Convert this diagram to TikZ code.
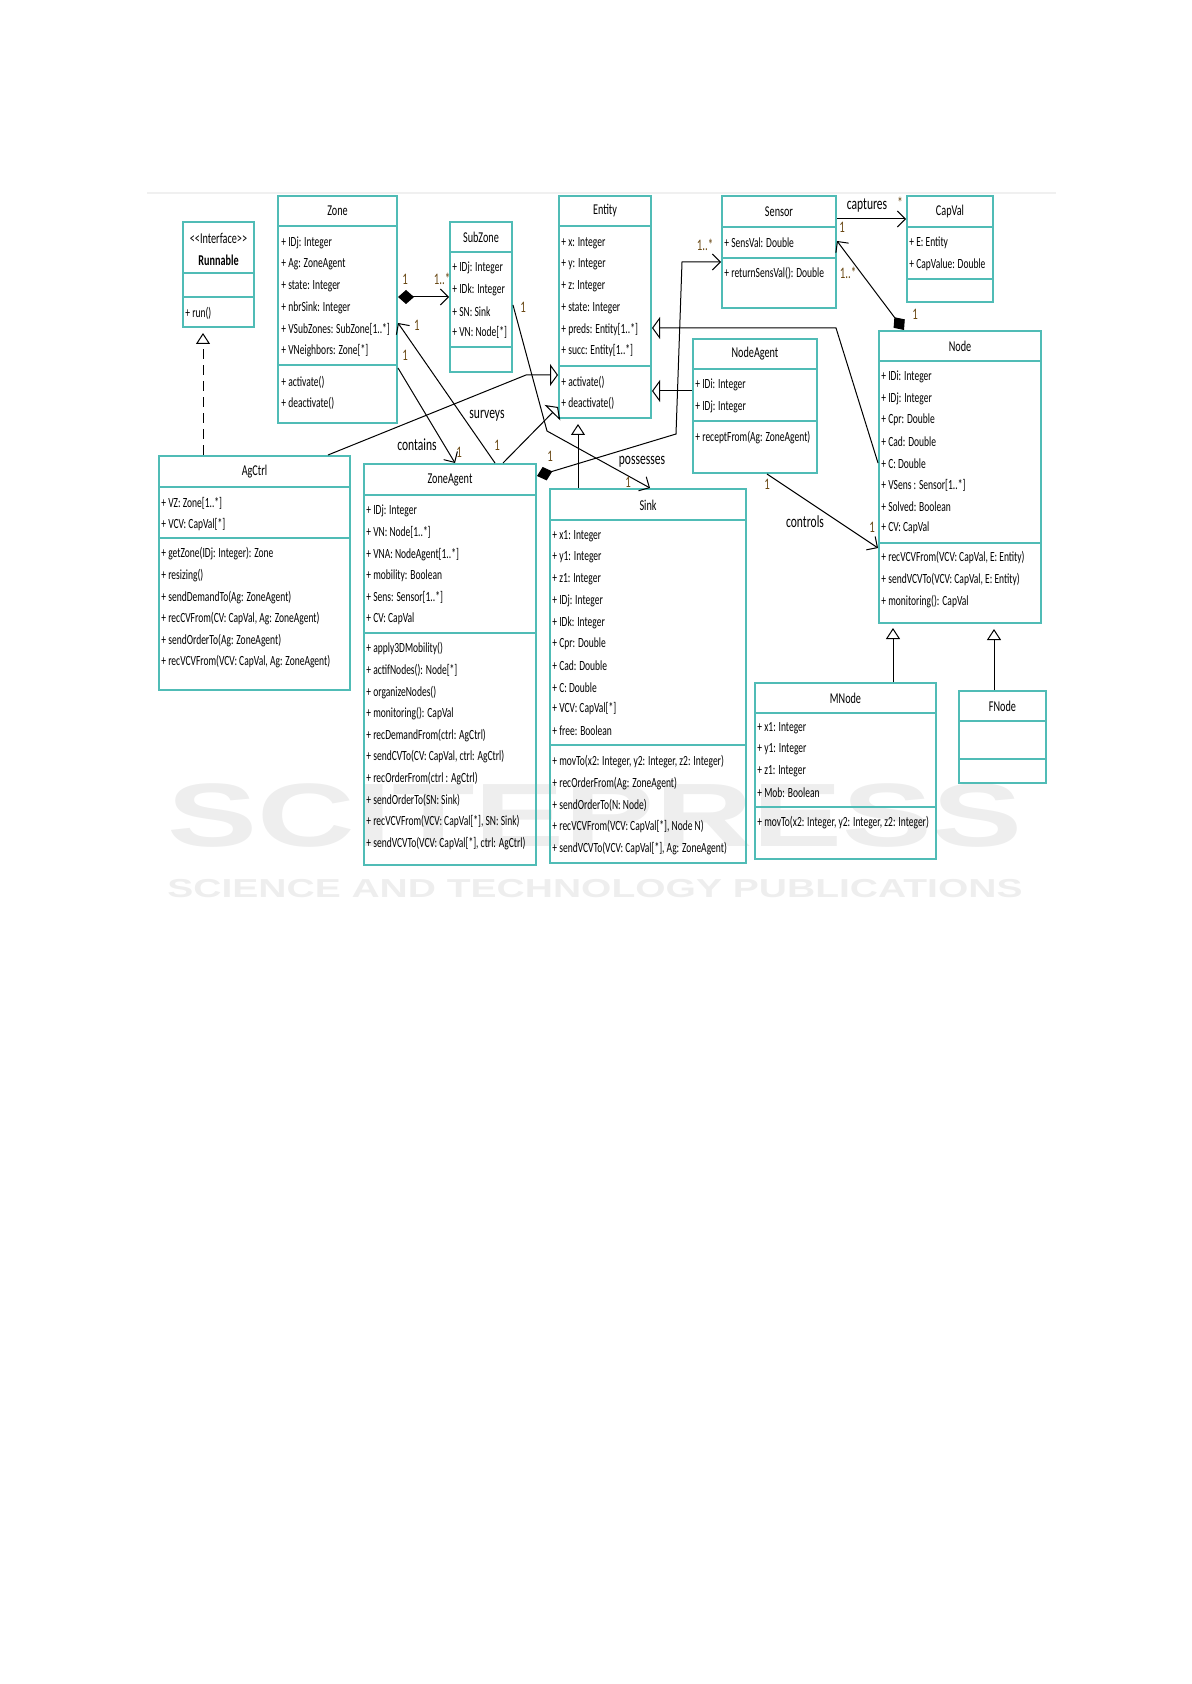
\documentclass[tikz,border=0pt]{standalone}
\usepackage{fontspec}
\usepackage{tikz}
\usetikzlibrary{arrows.meta, fit}
\newfontfamily\umlfont{Carlito}[FakeStretch=0.68]
\newfontfamily\wmfont{Liberation Sans}[FakeStretch=1.5]
\definecolor{umlteal}{RGB}{80,188,182}
\definecolor{multc}{RGB}{105,72,20}
\tikzset{
  cls/.style={draw=umlteal, line width=1pt, inner sep=0pt},
  sep/.style={draw=umlteal, line width=1pt},
  ttl/.style={font=\umlfont\fontsize{7.5}{11}\selectfont, inner sep=0pt, align=center},
  row/.style={anchor=west, font=\umlfont\fontsize{7}{8}\selectfont, inner sep=0pt, text=black},
  lbl/.style={font=\umlfont\fontsize{8.5}{10}\selectfont, inner sep=0pt},
  mult/.style={font=\umlfont\fontsize{8}{9}\selectfont, inner sep=0pt, text=multc},
  line/.style={draw, line width=0.5pt},
  assoc/.style={line, -{Straight Barb[length=4pt, width=8pt]}},
  comp/.style={line, {Diamond[length=8pt, width=7pt]}-{Straight Barb[length=4pt, width=8pt]}},
  gen/.style={line, -{Triangle[open, length=5.5pt, width=7pt]}},
  genh/.style={line, -{Triangle[open, length=4pt, width=11pt]}},
  real/.style={gen, dash pattern=on 5pt off 3pt}
}

\begin{document}
\begin{tikzpicture}[x=0.5pt, y=-0.5pt]
  \useasboundingbox (0,0) rectangle (1191,1684);
  \draw[gray!12, line width=1pt] (147,193) -- (1056,193);
  \node[text=gray!13, font=\wmfont\bfseries\fontsize{45}{50}\selectfont] (wm) at (595,816) {SCITEPRESS};
  \node[text=gray!13, font=\wmfont\bfseries\fontsize{13}{15}\selectfont] (wm2) at (595,889) {SCIENCE AND TECHNOLOGY PUBLICATIONS};

  % Runnable
  \node[cls, fit={(183,222) (254,327)}] (runnable) {};
  \draw[sep] (runnable.west |- 0,273) -- (runnable.east |- 0,273) (runnable.west |- 0,297) -- (runnable.east |- 0,297);
  \node[ttl] (runnable-t) at (218.5,249) {<<Interface>>\\\bfseries Runnable};
  \node[row] (runnable-o1) at (185,313) {+ run()};

  % Zone
  \node[cls, fit={(278,196) (397,423)}] (zone) {};
  \draw[sep] (zone.west |- 0,226) -- (zone.east |- 0,226) (zone.west |- 0,365) -- (zone.east |- 0,365);
  \node[ttl] (zone-t) at (zone.north |- 0,211) {Zone};
  \foreach \txt [count=\i] in {{+ IDj: Integer}, {+ Ag: ZoneAgent}, {+ state: Integer}, {+ nbrSink: Integer}, {+ VSubZones: SubZone[1..*]}, {+ VNeighbors: Zone[*]}}
    \node[row] (zone-a\i) at (281, {221.4+21.6*\i}) {\txt};
  \foreach \txt [count=\i] in {{+ activate()}, {+ deactivate()}}
    \node[row] (zone-o\i) at (281, {360.4+21.6*\i}) {\txt};

  % SubZone
  \node[cls, fit={(450,222) (512,372)}] (subzone) {};
  \draw[sep] (subzone.west |- 0,252) -- (subzone.east |- 0,252) (subzone.west |- 0,347) -- (subzone.east |- 0,347);
  \node[ttl] (subzone-t) at (subzone.north |- 0,237) {SubZone};
  \foreach \txt [count=\i] in {{+ IDj: Integer}, {+ IDk: Integer}, {+ SN: Sink}, {+ VN: Node[*]}}
    \node[row] (subzone-a\i) at (452, {246.4+21.6*\i}) {\txt};

  % Entity
  \node[cls, fit={(559,196) (651,418)}] (entity) {};
  \draw[sep] (entity.west |- 0,226) -- (entity.east |- 0,226) (entity.west |- 0,366) -- (entity.east |- 0,366);
  \node[ttl] (entity-t) at (entity.north |- 0,211) {Entity};
  \foreach \txt [count=\i] in {{+ x: Integer}, {+ y: Integer}, {+ z: Integer}, {+ state: Integer}, {+ preds: Entity[1..*]}, {+ succ: Entity[1..*]}}
    \node[row] (entity-a\i) at (561, {221.4+21.6*\i}) {\txt};
  \foreach \txt [count=\i] in {{+ activate()}, {+ deactivate()}}
    \node[row] (entity-o\i) at (561, {360.4+21.6*\i}) {\txt};

  % Sensor
  \node[cls, fit={(722,196) (836,308)}] (sensor) {};
  \draw[sep] (sensor.west |- 0,227) -- (sensor.east |- 0,227) (sensor.west |- 0,258) -- (sensor.east |- 0,258);
  \node[ttl] (sensor-t) at (sensor.north |- 0,212) {Sensor};
  \node[row] (sensor-a1) at (724,243) {+ SensVal: Double};
  \node[row] (sensor-o1) at (724,273) {+ returnSensVal(): Double};

  % CapVal
  \node[cls, fit={(907,196) (993,302)}] (capval) {};
  \draw[sep] (capval.west |- 0,227) -- (capval.east |- 0,227) (capval.west |- 0,279) -- (capval.east |- 0,279);
  \node[ttl] (capval-t) at (capval.north |- 0,212) {CapVal};
  \foreach \txt [count=\i] in {{+ E: Entity}, {+ CapValue: Double}}
    \node[row] (capval-a\i) at (909, {221.4+21.6*\i}) {\txt};

  % NodeAgent
  \node[cls, fit={(693,339) (817,473)}] (nodeagent) {};
  \draw[sep] (nodeagent.west |- 0,369) -- (nodeagent.east |- 0,369) (nodeagent.west |- 0,421) -- (nodeagent.east |- 0,421);
  \node[ttl] (nodeagent-t) at (nodeagent.north |- 0,354) {NodeAgent};
  \foreach \txt [count=\i] in {{+ IDi: Integer}, {+ IDj: Integer}}
    \node[row] (nodeagent-a\i) at (695, {363.4+21.6*\i}) {\txt};
  \node[row] (nodeagent-o1) at (695,438) {+ receptFrom(Ag: ZoneAgent)};

  % Node
  \node[cls, fit={(879,331) (1041,623)}] (node) {};
  \draw[sep] (node.west |- 0,361) -- (node.east |- 0,361) (node.west |- 0,543) -- (node.east |- 0,543);
  \node[ttl] (node-t) at (node.north |- 0,346) {Node};
  \foreach \txt [count=\i] in {{+ IDi: Integer}, {+ IDj: Integer}, {+ Cpr: Double}, {+ Cad: Double}, {+ C: Double}, {+ VSens : Sensor[1..*]}, {+ Solved: Boolean}, {+ CV: CapVal}}
    \node[row] (node-a\i) at (881, {355.4+21.6*\i}) {\txt};
  \foreach \txt [count=\i] in {{+ recVCVFrom(VCV: CapVal, E: Entity)}, {+ sendVCVTo(VCV: CapVal, E: Entity)}, {+ monitoring(): CapVal}}
    \node[row] (node-o\i) at (881, {536.4+21.6*\i}) {\txt};

  % AgCtrl
  \node[cls, fit={(159,456) (350,690)}] (agctrl) {};
  \draw[sep] (agctrl.west |- 0,487) -- (agctrl.east |- 0,487) (agctrl.west |- 0,538) -- (agctrl.east |- 0,538);
  \node[ttl] (agctrl-t) at (agctrl.north |- 0,472) {AgCtrl};
  \foreach \txt [count=\i] in {{+ VZ: Zone[1..*]}, {+ VCV: CapVal[*]}}
    \node[row] (agctrl-a\i) at (161, {481.4+21.6*\i}) {\txt};
  \foreach \txt [count=\i] in {{+ getZone(IDj: Integer): Zone}, {+ resizing()}, {+ sendDemandTo(Ag: ZoneAgent)}, {+ recCVFrom(CV: CapVal, Ag: ZoneAgent)}, {+ sendOrderTo(Ag: ZoneAgent)}, {+ recVCVFrom(VCV: CapVal, Ag: ZoneAgent)}}
    \node[row] (agctrl-o\i) at (161, {532.4+21.6*\i}) {\txt};

  % ZoneAgent
  \node[cls, fit={(364,464) (536,865)}] (zoneagent) {};
  \draw[sep] (zoneagent.west |- 0,495) -- (zoneagent.east |- 0,495) (zoneagent.west |- 0,633) -- (zoneagent.east |- 0,633);
  \node[ttl] (zoneagent-t) at (zoneagent.north |- 0,480) {ZoneAgent};
  \foreach \txt [count=\i] in {{+ IDj: Integer}, {+ VN: Node[1..*]}, {+ VNA: NodeAgent[1..*]}, {+ mobility: Boolean}, {+ Sens: Sensor[1..*]}, {+ CV: CapVal}}
    \node[row] (zoneagent-a\i) at (366, {489.4+21.6*\i}) {\txt};
  \foreach \txt [count=\i] in {{+ apply3DMobility()}, {+ actifNodes(): Node[*]}, {+ organizeNodes()}, {+ monitoring(): CapVal}, {+ recDemandFrom(ctrl: AgCtrl)}, {+ sendCVTo(CV: CapVal, ctrl: AgCtrl)}, {+ recOrderFrom(ctrl : AgCtrl)}, {+ sendOrderTo(SN: Sink)}, {+ recVCVFrom(VCV: CapVal[*], SN: Sink)}, {+ sendVCVTo(VCV: CapVal[*], ctrl: AgCtrl)}}
    \node[row] (zoneagent-o\i) at (366, {627.4+21.6*\i}) {\txt};

  % Sink
  \node[cls, fit={(550,489) (746,863)}] (sink) {};
  \draw[sep] (sink.west |- 0,520) -- (sink.east |- 0,520) (sink.west |- 0,745) -- (sink.east |- 0,745);
  \node[ttl] (sink-t) at (sink.north |- 0,505) {Sink};
  \foreach \txt [count=\i] in {{+ x1: Integer}, {+ y1: Integer}, {+ z1: Integer}, {+ IDj: Integer}, {+ IDk: Integer}, {+ Cpr: Double}, {+ Cad: Double}, {+ C: Double}, {+ VCV: CapVal[*]}, {+ free: Boolean}}
    \node[row] (sink-a\i) at (552, {514.4+21.6*\i}) {\txt};
  \foreach \txt [count=\i] in {{+ movTo(x2: Integer, y2: Integer, z2: Integer)}, {+ recOrderFrom(Ag: ZoneAgent)}, {+ sendOrderTo(N: Node)}, {+ recVCVFrom(VCV: CapVal[*], Node N)}, {+ sendVCVTo(VCV: CapVal[*], Ag: ZoneAgent)}}
    \node[row] (sink-o\i) at (552, {740.4+21.6*\i}) {\txt};

  % MNode
  \node[cls, fit={(755,683) (936,859)}] (mnode) {};
  \draw[sep] (mnode.west |- 0,713) -- (mnode.east |- 0,713) (mnode.west |- 0,807) -- (mnode.east |- 0,807);
  \node[ttl] (mnode-t) at (mnode.north |- 0,698) {MNode};
  \foreach \txt [count=\i] in {{+ x1: Integer}, {+ y1: Integer}, {+ z1: Integer}, {+ Mob: Boolean}}
    \node[row] (mnode-a\i) at (757, {706.4+21.6*\i}) {\txt};
  \node[row] (mnode-o1) at (757,823) {+ movTo(x2: Integer, y2: Integer, z2: Integer)};

  % FNode
  \node[cls, fit={(959,691) (1046,783)}] (fnode) {};
  \draw[sep] (fnode.west |- 0,721) -- (fnode.east |- 0,721) (fnode.west |- 0,759) -- (fnode.east |- 0,759);
  \node[ttl] (fnode-t) at (fnode.north |- 0,706) {FNode};

  % connectors
  \draw[comp] (zone.east |- subzone.west) -- (subzone.west);
  \draw[real] ([xshift=-25.75pt]agctrl.north) -- ([xshift=-7.75pt,yshift=-2.5pt]runnable.south);
  \draw[assoc] ([xshift=22.5pt]zoneagent.north) -- ([yshift=-6.75pt]zone.east);
  \draw[assoc] ([yshift=28pt]zone.south east) -- ([xshift=2.5pt]zoneagent.north);
  \draw[genh] ([xshift=36.75pt]agctrl.north) -- ([xshift=-16pt,yshift=-34pt]entity.west) -- ([yshift=-34pt]entity.west);
  \draw[genh] ([xshift=26.5pt]zoneagent.north) -- ([yshift=-50pt]entity.west);
  \draw[gen] ([xshift=-35pt]sink.north) -- ([xshift=-13.5pt,yshift=-2.5pt]entity.south);
  \draw[genh] ([yshift=7.5pt]nodeagent.west) -- ([yshift=-42pt]entity.east);
  \draw[genh] ([yshift=7pt]node.west) -- ([xshift=-21pt,yshift=74.5pt]node.west) -- ([yshift=-10.5pt]entity.east);
  \draw[comp] ([yshift=-6.5pt]zoneagent.north east) -- ([xshift=-22.5pt,yshift=-91pt]sensor.west) -- ([xshift=-19.5pt,yshift=-5pt]sensor.west) -- ([yshift=-5pt]sensor.west);
  \draw[assoc] ([yshift=-4pt]subzone.east) -- ([xshift=-50.5pt,yshift=28.5pt]sink.north) -- ([xshift=1pt]sink.north);
  \draw[assoc] ([yshift=16.5pt]sensor.east) -- ([yshift=15pt]capval.west);
  \draw[comp] ([xshift=-28pt]node.north) -- ([yshift=5.5pt]sensor.east);
  \draw[assoc] ([xshift=6pt]nodeagent.south) -- ([yshift=-35.5pt]node.west);
  \draw[gen] ([xshift=23.75pt]mnode.north) -- ([xshift=-33.5pt,yshift=-2pt]node.south);
  \draw[gen] ([xshift=-4.25pt]fnode.north) -- ([xshift=17pt,yshift=-2.5pt]node.south);

  % labels
  \node[mult] (m1) at (405,279) {1};
  \node[mult] (m2) at (442,279) {1..*};
  \node[mult] (m3) at (417,325) {1};
  \node[mult] (m4) at (405,355) {1};
  \node[lbl] (l1) at (417,445) {contains};
  \node[mult] (m5) at (459,452) {1};
  \node[lbl] (l2) at (487,416) {surveys};
  \node[mult] (m6) at (497,445) {1};
  \node[mult] (m7) at (523,307) {1};
  \node[lbl] (l3) at (642,462) {possesses};
  \node[mult] (m8) at (628,482) {1};
  \node[mult] (m9) at (550,456) {1};
  \node[mult] (m10) at (705,245) {1..*};
  \node[lbl] (l4) at (867,205) {captures};
  \node[mult] (m11) at (900,203) {*};
  \node[mult] (m12) at (842,227) {1};
  \node[mult] (m13) at (848,273) {1..*};
  \node[mult] (m14) at (915,314) {1};
  \node[mult] (m15) at (767,484) {1};
  \node[lbl] (l5) at (805,522) {controls};
  \node[mult] (m16) at (872,527) {1};
\end{tikzpicture}
\end{document}
